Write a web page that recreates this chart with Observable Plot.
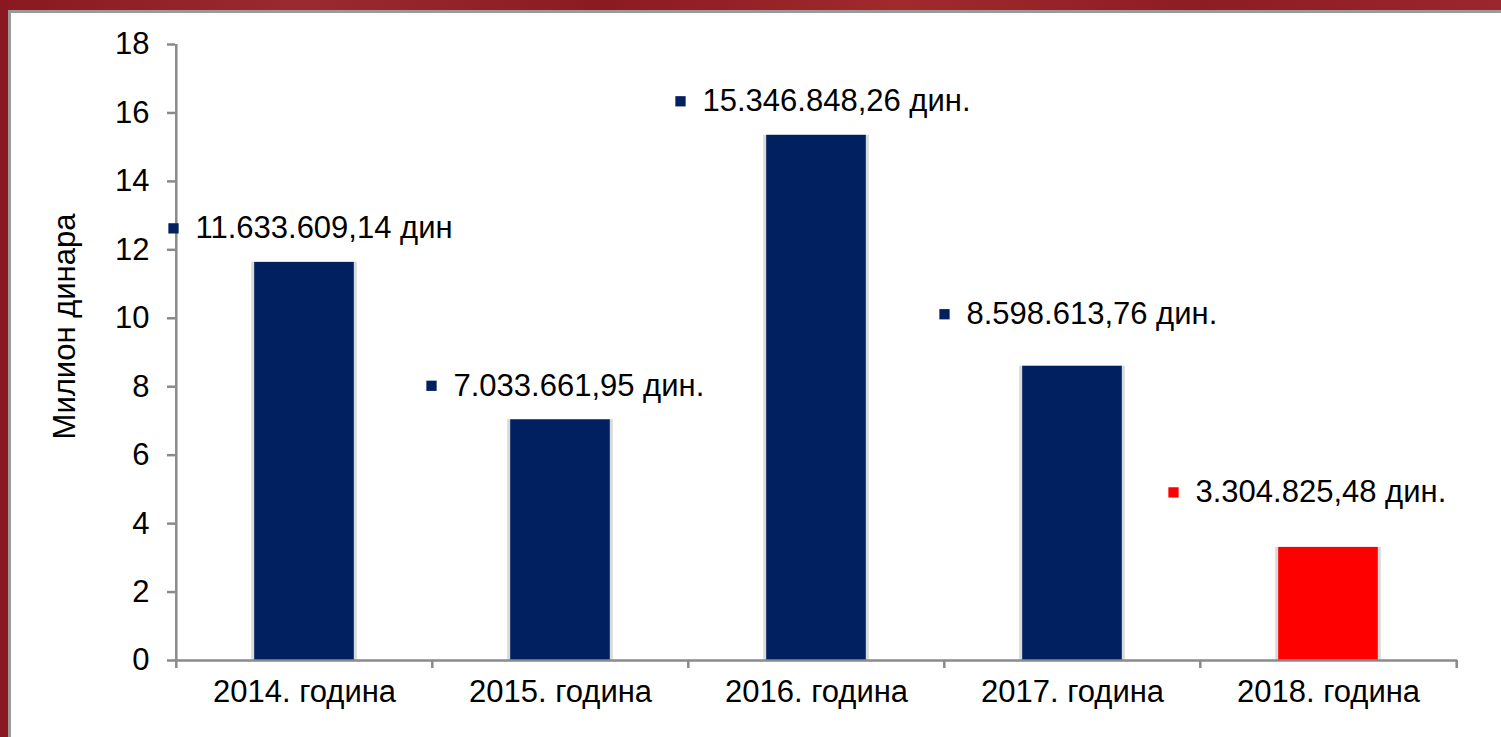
<!DOCTYPE html>
<html>
<head>
<meta charset="utf-8">
<script src="https://cdn.jsdelivr.net/npm/d3@7"></script>
<script src="https://cdn.jsdelivr.net/npm/@observablehq/plot@0.6"></script>
<style>
  html, body { margin: 0; padding: 0; width: 1501px; height: 737px; overflow: hidden;
    background: linear-gradient(90deg, #8a1820 0%, #9a2a30 20%, #8c1a22 40%, #a02a2c 60%, #8e1c24 80%, #9a2630 100%); }
  #panel { position: absolute; left: 8px; top: 10px; width: 1600px; height: 800px; background: #fff;
    border-top: 3px solid #9a9a9a; border-left: 3px solid #9a9a9a; }
  #chart { position: absolute; left: 0; top: 0; }
  #chart svg { background: transparent; }
</style>
</head>
<body>
<div id="panel"></div>
<div id="chart"></div>
<script>
const categories = ["2014. година", "2015. година", "2016. година", "2017. година", "2018. година"];
const values = [11633609.14, 7033661.95, 15346848.26, 8598613.76, 3304825.48];
const labels = ["11.633.609,14 дин", "7.033.661,95 дин.", "15.346.848,26 дин.", "8.598.613,76 дин.", "3.304.825,48 дин."];
const colors = ["#002060", "#002060", "#002060", "#002060", "#ff0000"];
const yTicks = [0, 2, 4, 6, 8, 10, 12, 14, 16, 18];
const yTitle = "Милион динара";

const data = categories.map((c, i) => ({cat: c, v: values[i] / 1e6, label: labels[i], color: colors[i]}));

const W = 1501, H = 737;
const mL = 175, mR = 44, mT = 44, mB = 77;
const step = (W - mL - mR) / categories.length;
const barW = 100;
const inset = (step - barW) / 2;
const pxPerUnit = (H - mT - mB) / 18;
const tickU = 8 / pxPerUnit;
const font = "Liberation Sans, Arial, sans-serif";
const axisGray = "#8a8a8a";
const fs = 31;

// label placement offsets (px) relative to each bar's center / top
const labelDX = [-131, -129, -136, -128, -155];
const labelDY = [-34, -34, -34, -52, -55];

const marks = [
  // bar shadows
  Plot.barY(data, {x: "cat", y: "v", fill: "#d9d9d9", insetLeft: inset - 3, insetRight: inset - 3}),
  Plot.barY(data, {x: "cat", y: "v", fill: "color", insetLeft: inset, insetRight: inset}),
  // y axis line
  Plot.ruleX([categories[0]], {dx: -step / 2, y1: 0, y2: 18, stroke: axisGray, strokeWidth: 2.5}),
  // x axis line
  Plot.ruleY([0], {stroke: axisGray, strokeWidth: 2.5}),
  // x boundary ticks
  Plot.ruleX(categories, {dx: -step / 2, y1: 0, y2: -tickU, stroke: axisGray, strokeWidth: 2.5}),
  Plot.ruleX([categories[categories.length - 1]], {dx: step / 2, y1: 0, y2: -tickU, stroke: axisGray, strokeWidth: 2.5}),
  // y axis ticks and labels
  Plot.axisY({ticks: yTicks, tickSize: 8, stroke: axisGray, strokeWidth: 2.5, text: null, label: null}),
  Plot.axisY({ticks: yTicks, tickSize: 0, tickPadding: 26, label: null, fontSize: fs, fill: "#000", tickFormat: d => String(d)}),
  // x axis labels
  Plot.axisX({tickSize: 0, tickPadding: 19, label: null, fontSize: fs, fill: "#000"}),
  // y axis title
  Plot.text([yTitle], {frameAnchor: "left", text: d => d, rotate: -90, textAnchor: "middle", dx: -110, dy: -26, fontSize: fs, fill: "#000"})
];

data.forEach((d, i) => {
  marks.push(Plot.dot([d], {x: "cat", y: "v", symbol: "square", r: 5.8, fill: "color", dx: labelDX[i], dy: labelDY[i]}));
  marks.push(Plot.text([d], {x: "cat", y: "v", text: "label", textAnchor: "start", dx: labelDX[i] + 22, dy: labelDY[i], fontSize: fs, fill: "#000"}));
});

const chart = Plot.plot({
  width: W, height: H,
  marginLeft: mL, marginRight: mR, marginTop: mT, marginBottom: mB,
  style: {fontFamily: font, background: "transparent", overflow: "visible"},
  x: {domain: categories, padding: 0},
  y: {domain: [0, 18]},
  color: {type: "identity"},
  marks
});
document.getElementById("chart").appendChild(chart);
</script>
</body>
</html>
